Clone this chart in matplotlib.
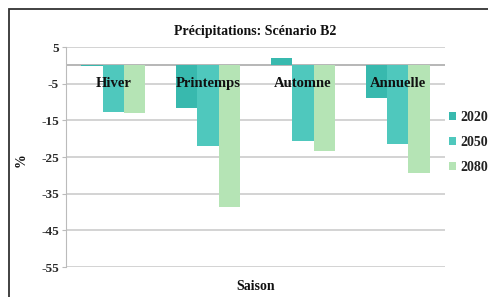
import numpy as np
import matplotlib
matplotlib.use('Agg')
import matplotlib.pyplot as plt
from matplotlib.patches import Rectangle

saisons = ['Hiver', 'Printemps', 'Automne', 'Annuelle']
annees = ['2020', '2050', '2080']
v2020 = [-0.3, -11.5, 2.0, -9.0]
v2050 = [-12.8, -22.0, -20.7, -21.4]
v2080 = [-13.0, -38.5, -23.3, -29.4]
couleurs = ['#38b9ae', '#4fc8bd', '#b5e4b5']

plt.rcParams['font.family'] = ['Liberation Serif', 'DejaVu Serif']
plt.rcParams['font.weight'] = 'bold'

fig = plt.figure(figsize=(4.89, 2.97), dpi=100)
fig.patches.append(Rectangle((8.5 / 489, -0.1), 1.2, 1 - 9.5 / 297 + 0.1,
                             transform=fig.transFigure, fill=False,
                             edgecolor='#333333', linewidth=1.3))

ax = fig.add_axes([66 / 489, 1 - 267 / 297, (445 - 66) / 489, (267 - 47) / 297])
x = np.arange(len(saisons))
w = 0.225
for i, (vals, lab) in enumerate(zip([v2020, v2050, v2080], annees)):
    ax.bar(x + (i - 1) * w, vals, w, color=couleurs[i], label=lab, zorder=2)

ax.set_xlim(-0.5, len(saisons) - 0.5)
ax.set_ylim(-55, 5)
ax.set_yticks(np.arange(5, -56, -10))
ax.set_yticklabels([str(t) for t in np.arange(5, -56, -10)])
ax.set_xticks([])
ax.grid(axis='y', color='#cccccc', linewidth=1.2, zorder=0)
ax.set_axisbelow(True)
ax.axhline(0, color='#aaaaaa', linewidth=1.2, zorder=1)
for s in ['top', 'right', 'bottom']:
    ax.spines[s].set_visible(False)
ax.spines['left'].set_color('#bbbbbb')
ax.tick_params(axis='y', length=3, color='#bbbbbb', labelsize=9.5, labelcolor='#2a2a2a', pad=2)

for xi, s in zip(x, saisons):
    ax.text(xi, -5, s, ha='center', va='center', fontsize=10.5, fontweight='bold',
            color='#111111', zorder=5)

fig.text(0.522, 1 - 31 / 297, 'Précipitations: Scénario B2', ha='center', va='center',
         fontsize=10, fontweight='bold', color='#111111')
fig.text(21 / 489, 1 - 160 / 297, '%', rotation=90, ha='center', va='center',
         fontsize=10, fontweight='bold', color='#111111')
fig.text(256 / 489, 1 - 287 / 297, 'Saison', ha='center', va='center',
         fontsize=10, fontweight='bold', color='#111111')

fig.legend(loc='upper left', bbox_to_anchor=(449 / 489, 1 - 111 / 297), frameon=False,
           handlelength=0.5, handleheight=0.5, handletextpad=0.3, labelspacing=0.85,
           fontsize=10, borderaxespad=0, borderpad=0, labelcolor='#222222')

fig.savefig('out.png', dpi=100, facecolor='white')
